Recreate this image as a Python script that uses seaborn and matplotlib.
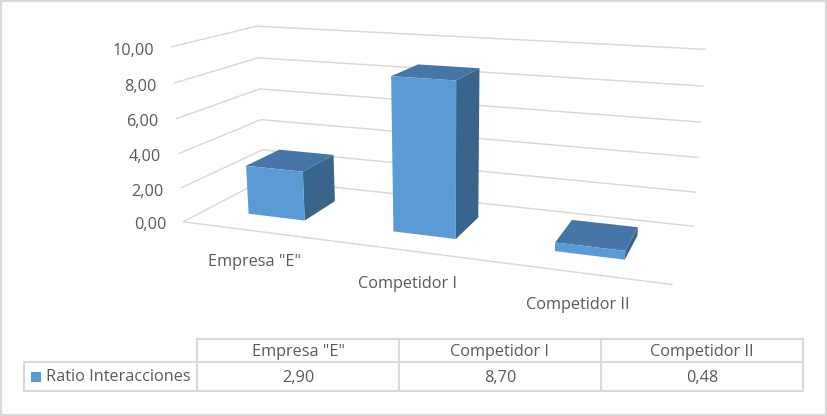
import numpy as np
import matplotlib
matplotlib.use("Agg")
import matplotlib.pyplot as plt
from matplotlib.patches import Polygon, Rectangle
from matplotlib.transforms import Affine2D, Transform
import seaborn as sns

categories = ['Empresa "E"', 'Competidor I', 'Competidor II']
values = [2.90, 8.70, 0.48]
series_name = "Ratio Interacciones"
y_ticks = [0, 2, 4, 6, 8, 10]

W, H = 827, 416
FRONT, SIDE, TOP = "#5b9bd5", "#39648c", "#4676a5"
GRID, TXT = "#d9d9d9", "#595959"
FS = 11.7
sns.set_theme(style="white")
plt.rcParams["font.family"] = ["Open Sans", "DejaVu Sans"]

# camera calibration: (category pos, depth, value) -> output pixel
zs = np.array([0, 2, 4, 6, 8, 10])
cal = []
for z, a, b, c in zip(zs,
        [(183, 221.7), (180.7, 187.7), (178.7, 153.7), (176, 119), (173, 83), (170.7, 47.3)],
        [(264, 180), (262.7, 150), (260.7, 119.3), (259.7, 89), (257.7, 58), (256.7, 26)],
        [(694, 226.3), (696.7, 192), (699, 157), (701, 122), (703.3, 86.7), (706, 49.3)]):
    cal += [((-.5, 0, z), a), ((-.5, 1, z), b), ((2.5, 1, z), c)]
cal.append(((2.5, 0, 0), (672.7, 285)))
A, rhs = [], []
for (x, d, z), (u, v) in cal:
    A.append([x, d, z, 1, 0, 0, 0, 0, -u*x, -u*d, -u*z]); rhs.append(u)
    A.append([0, 0, 0, 0, x, d, z, 1, -v*x, -v*d, -v*z]); rhs.append(v)
sol = np.linalg.lstsq(np.array(A, float), np.array(rhs, float), rcond=None)[0]
P = np.append(sol, 1).reshape(3, 4)


def project(x, d, z):
    q = P @ np.array([x, d, z, 1.0])
    return q[0] / q[2], q[1] / q[2]


D0, D1 = 0.28, 0.71
BAR_W = 0.4


class FrontFace(Transform):
    input_dims = output_dims = 2

    def transform_non_affine(self, pts):
        pts = np.asarray(pts, float)
        out = [project(x, D0, z) for x, z in pts]
        return PX.transform(np.array(out))


fig = plt.figure(figsize=(W / 100, H / 100), dpi=100, facecolor="white")
ax = fig.add_axes([0, 0, 1, 1])
PX = Affine2D().scale(1, -1).translate(0, H)

sns.barplot(x=categories, y=values, color=FRONT, saturation=1, width=BAR_W, ax=ax, zorder=3)
ax.set_xlim(-.5, 2.5)
ax.set_ylim(0, 10)
ax.axis("off")
for p in ax.patches:
    p.set_transform(FrontFace())
    p.set_clip_on(False)
    p.set_edgecolor("none")


def line(pts, lw=1.05, color=GRID):
    ax.plot(*zip(*pts), transform=PX, color=color, lw=lw, zorder=0.5, clip_on=False, solid_capstyle="butt")


def label(x, y, s, ha="center"):
    ax.text(x, y + 2, s, transform=PX, ha=ha, va="center", color=TXT, fontsize=FS, clip_on=False)


fmt = lambda v: f"{v:.2f}".replace(".", ",")
for z in y_ticks:
    pts = [project(-.5, 0, z), project(-.5, 1, z), project(2.5, 1, z)]
    line(pts)
    label(pts[0][0] - 17, pts[0][1] + 1.5, fmt(z), ha="right")
line([project(-.5, 0, 0), project(2.5, 0, 0)])

for i, v in enumerate(values):
    x0, x1 = i - BAR_W / 2, i + BAR_W / 2
    ax.add_patch(Polygon([project(x1, D0, 0), project(x1, D1, 0), project(x1, D1, v), project(x1, D0, v)],
                         closed=True, fc=SIDE, ec="none", transform=PX, zorder=2, clip_on=False))
    ax.add_patch(Polygon([project(x0, D0, v), project(x1, D0, v), project(x1, D1, v), project(x0, D1, v)],
                         closed=True, fc=TOP, ec="none", transform=PX, zorder=2, clip_on=False))

for c, (x, y) in zip(categories, [(254.5, 260), (407.5, 282), (577.5, 303)]):
    label(x, y, c)

# data table
xs = [197, 399, 601, 803]
TL = 1.5
line([(xs[0], 339), (xs[-1], 339)], TL)
line([(24, 362), (xs[-1], 362)], TL)
line([(24, 391), (xs[-1], 391)], TL)
line([(24, 361), (24, 392)], TL)
for i, x in enumerate(xs):
    line([(x, 338), (x, 392)], TL)
for i, (c, v) in enumerate(zip(categories, values)):
    cx = (xs[i] + xs[i + 1]) / 2
    label(cx, 350, c)
    label(cx, 376, fmt(v))
ax.add_patch(Rectangle((31, 372), 10, 10, fc=FRONT, ec="none", transform=PX, clip_on=False))
label(46, 375, series_name, ha="left")

# chart frame
ax.add_patch(Rectangle((1, 1), 824.5, 413.5, fc="none", ec=GRID, lw=1.5, transform=PX, clip_on=False))

fig.savefig("out.png", dpi=100, facecolor="white")
